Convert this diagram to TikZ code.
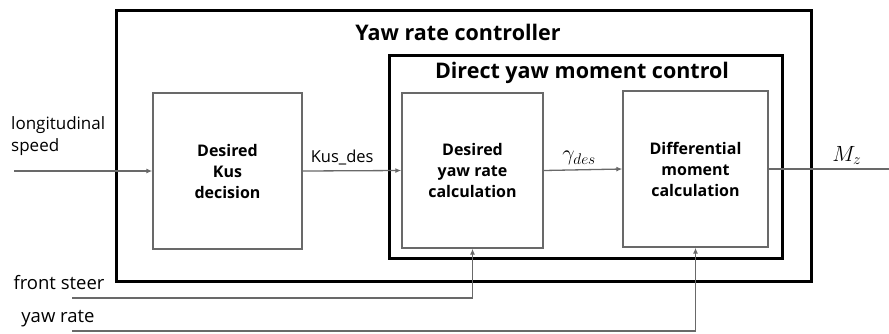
\RequirePackage{fix-cm}
\documentclass[tikz,border=0pt]{standalone}
\usepackage{fontspec}
\setmainfont{Open Sans}
\usetikzlibrary{arrows.meta, positioning}
\definecolor{linegray}{RGB}{105,105,105}

\begin{document}
\begin{tikzpicture}[x=1pt, y=-1pt, >={Latex[length=6pt,width=5pt]},
    block/.style={draw=linegray, line width=1.4pt, align=center, inner sep=0pt,
      font=\bfseries\fontsize{16}{21}\selectfont},
    frame/.style={draw, line width=3pt, inner sep=0pt},
    title/.style={font=\bfseries\fontsize{21.5}{24}\selectfont, inner sep=0pt},
    sig/.style={draw=linegray, line width=1.3pt},
    lbl/.style={font=\fontsize{17}{22}\selectfont, inner sep=0pt, align=left}]
  \useasboundingbox (0,0) rectangle (889,333);

  % frames
  \node[frame, minimum width=695pt, minimum height=271pt] (ctrl)   at (463.5,145.5) {};
  \node[frame, minimum width=393pt, minimum height=203pt] (dyc)    at (585.5,156.5) {};
  \node[title] (ctrltitle) at (458,32) {Yaw rate controller};
  \node[title] (dyctitle)  at (582,73) {Direct yaw moment control};

  % blocks
  \node[block, minimum width=149pt, minimum height=156pt] (kus)     at (227.5,171)   {Desired\\Kus\\decision};
  \node[block, minimum width=141pt, minimum height=155pt] (yawcalc) at (472.5,170.5) {Desired\\yaw rate\\calculation};
  \node[block, minimum width=145pt, minimum height=156pt] (diff)    at (695.5,169)   {Differential\\moment\\calculation};

  % inputs and outputs
  \node[lbl, anchor=north west] (vxlbl) at (11,116) {longitudinal\\speed};
  \node[lbl, font=\fontsize{18.5}{22}\selectfont] (fslbl) at (59,283) {front steer};
  \node[lbl, font=\fontsize{18.5}{22}\selectfont] (yrlbl) at (58,319) {yaw rate};
  \coordinate (vxin)  at (14,171);
  \coordinate (fsin)  at (72,298);
  \coordinate (yrin)  at (72,331);
  \coordinate (mzout) at (889,169);

  \draw[sig,->] (vxin) -- (vxin -| kus.west);
  \draw[sig,->] (kus.east) -- node[above=5pt, font=\fontsize{16.5}{19}\selectfont, inner sep=0pt, pos=0.4]{Kus\_des} (yawcalc.west);
  \draw[sig,->] (yawcalc.east) -- node[above=4pt, font=\fontsize{22}{24}\selectfont, inner sep=0pt, pos=0.45]{$\gamma_{des}$} (diff.west);
  \draw[sig] (diff.east) -- node[above=4pt, font=\fontsize{22}{24}\selectfont, inner sep=0pt, pos=0.65]{$M_z$} (mzout);
  \draw[sig,->] (fsin) -| (yawcalc.south);
  \draw[sig,->] (yrin) -| (diff.south);
\end{tikzpicture}
\end{document}
